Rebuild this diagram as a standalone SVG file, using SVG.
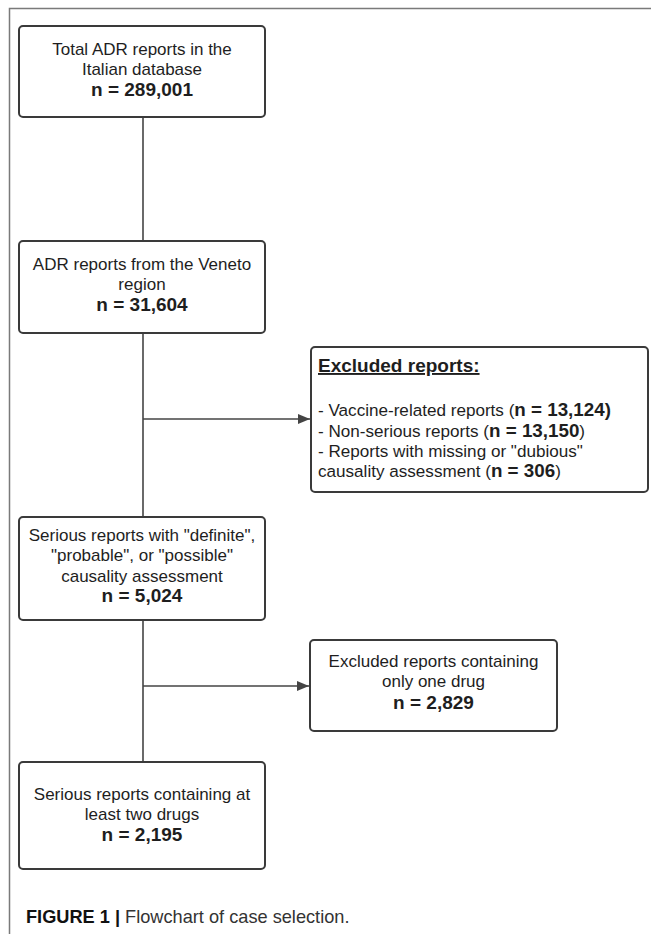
<svg xmlns="http://www.w3.org/2000/svg" width="651" height="934" viewBox="0 0 651 934">
<defs>
<style>
.box{fill:#fff;stroke:#3a3a3a;stroke-width:2}
.t{font-family:"Liberation Sans",Arial,sans-serif;font-size:17px;fill:#1e1e1e;text-anchor:middle}
.b{font-weight:bold;font-size:19px}
.tl{font-family:"Liberation Sans",Arial,sans-serif;font-size:17.1px;fill:#1e1e1e}
.bb{font-weight:bold;font-size:18.8px}
.hd{font-weight:bold;font-size:19px;text-decoration:underline}
.ln{stroke:#444;stroke-width:1.6;fill:none}
.frame{stroke:#7a7a7a;stroke-width:1.5;fill:none}
</style>
<marker id="ah" markerWidth="12" markerHeight="10" refX="12" refY="5" orient="auto" markerUnits="userSpaceOnUse">
<path d="M0,0 L12,5 L0,10 Z" fill="#444"/>
</marker>
</defs>
<rect width="651" height="934" fill="#fff"/>
<path class="frame" d="M651,8.5 H9.5 V934"/>
<g id="connectors">
<line class="ln" x1="143" y1="118" x2="143" y2="241"/>
<line class="ln" x1="143" y1="333" x2="143" y2="517"/>
<line class="ln" x1="143" y1="620" x2="143" y2="762"/>
<line class="ln" x1="143" y1="419" x2="310" y2="419" marker-end="url(#ah)"/>
<line class="ln" x1="143" y1="686" x2="309" y2="686" marker-end="url(#ah)"/>
</g>
<g id="n1">
<rect class="box" x="19" y="26" width="246" height="91" rx="4"/>
<text class="t" x="142" y="55">Total ADR reports in the</text>
<text class="t" x="142" y="75">Italian database</text>
<text class="t b" x="142" y="96">n = 289,001</text>
</g>
<g id="n2">
<rect class="box" x="19" y="241" width="246" height="92" rx="4"/>
<text class="t" x="142" y="269.5">ADR reports from the Veneto</text>
<text class="t" x="142" y="289.5">region</text>
<text class="t b" x="142" y="311">n = 31,604</text>
</g>
<g id="excl1">
<rect class="box" x="311" y="347" width="337" height="145" rx="4"/>
<text class="tl hd" x="318" y="372">Excluded reports:</text>
<text class="tl" x="318" y="416">- Vaccine-related reports (<tspan class="bb">n = 13,124)</tspan></text>
<text class="tl" x="318" y="437">- Non-serious reports (<tspan class="bb">n = 13,150</tspan>)</text>
<text class="tl" x="318" y="457">- Reports with missing or "dubious"</text>
<text class="tl" x="318" y="477">causality assessment (<tspan class="bb">n = 306</tspan>)</text>
</g>
<g id="n3">
<rect class="box" x="19" y="517" width="246" height="103" rx="4"/>
<text class="t" x="142" y="540.5">Serious reports with "definite",</text>
<text class="t" x="142" y="561">"probable", or "possible"</text>
<text class="t" x="142" y="581.5">causality assessment</text>
<text class="t b" x="142" y="602">n = 5,024</text>
</g>
<g id="excl2">
<rect class="box" x="310" y="640" width="247" height="91" rx="4"/>
<text class="t" x="433.5" y="667">Excluded reports containing</text>
<text class="t" x="433.5" y="687">only one drug</text>
<text class="t b" x="433.5" y="708.5">n = 2,829</text>
</g>
<g id="n4">
<rect class="box" x="19" y="762" width="246" height="107" rx="4"/>
<text class="t" x="142" y="799.5">Serious reports containing at</text>
<text class="t" x="142" y="820">least two drugs</text>
<text class="t b" x="142" y="841">n = 2,195</text>
</g>
<text x="26" y="923" font-family="'Liberation Sans',Arial,sans-serif" font-size="18.2" fill="#333"><tspan font-weight="bold" fill="#111">FIGURE 1 | </tspan>Flowchart of case selection.</text>
</svg>
